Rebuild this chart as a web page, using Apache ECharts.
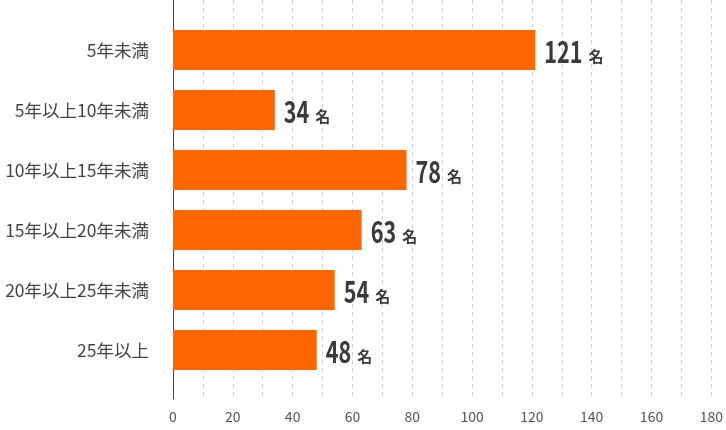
<!DOCTYPE html>
<html><head><meta charset="utf-8">
<script src="https://cdn.jsdelivr.net/npm/echarts@6/dist/echarts.min.js"></script>
<style>html,body{margin:0;padding:0;background:#fff}#c{width:726px;height:430px}</style>
</head><body><div id="c"></div>
<script>
const categories = ['5年未満','5年以上10年未満','10年以上15年未満','15年以上20年未満','20年以上25年未満','25年以上'];
const values = [121, 34, 78, 63, 54, 48];
const unit = '名';
const xMin = 0, xMax = 180, labelStep = 20, gridStep = 10;

const chart = echarts.init(document.getElementById('c'));
const font = '"Noto Sans CJK JP","Noto Sans",sans-serif';
const numFontCss = 'bold 30px "Noto Sans CJK JP", sans-serif';
const unitFontCss = 'bold 15px "Noto Sans CJK JP", sans-serif';
const numScaleX = 0.72;
const measureCtx = document.createElement('canvas').getContext('2d');
function textWidth(t, f) { measureCtx.font = f; return measureCtx.measureText(t).width; }

chart.setOption({
  animation: false,
  backgroundColor: '#fff',
  grid: [
    {left: 173, right: 14, top: 20, height: 360},
    {left: 173, right: 14, top: 0, height: 399}
  ],
  xAxis: [
    {gridIndex: 0, type: 'value', min: xMin, max: xMax, show: false},
    {gridIndex: 1, type: 'value', min: xMin, max: xMax, interval: gridStep,
     axisLine: {show: false}, axisTick: {show: false},
     axisLabel: {color: '#555', fontSize: 14, fontFamily: font, margin: 11,
       formatter: v => (v % labelStep === 0 ? String(v) : '')},
     splitLine: {show: true, lineStyle: {color: '#d0d0d0', type: [4, 4], width: 1}}}
  ],
  yAxis: [
    {gridIndex: 0, type: 'category', data: categories, inverse: true,
     axisLine: {show: false}, axisTick: {show: false},
     axisLabel: {color: '#444', fontSize: 17.5, fontFamily: font, margin: 24}},
    {gridIndex: 1, type: 'value', min: 0, max: 1, axisLabel: {show: false},
     axisTick: {show: false}, splitLine: {show: false},
     axisLine: {show: true, onZero: false, lineStyle: {color: '#444', width: 1}}}
  ],
  series: [{
    type: 'bar', xAxisIndex: 0, yAxisIndex: 0, data: values, barWidth: 40,
    itemStyle: {color: '#ff6600'}
  }, {
    type: 'custom', xAxisIndex: 0, yAxisIndex: 0,
    data: values.map((v, i) => [v, i]),
    renderItem: function (params, api) {
      const v = api.value(0), i = api.value(1);
      const pt = api.coord([v, i]);
      const txt = String(v);
      const x0 = pt[0] + 9;
      const w = textWidth(txt, numFontCss) * numScaleX;
      return {
        type: 'group',
        children: [
          {type: 'text', x: x0, y: pt[1] + 1.5, scaleX: numScaleX,
           style: {text: txt, font: numFontCss, fill: '#3a3a3a', align: 'left', verticalAlign: 'middle'}},
          {type: 'text', x: x0 + w + 6, y: pt[1] + 6.5,
           style: {text: unit, font: unitFontCss, fill: '#3a3a3a', align: 'left', verticalAlign: 'middle'}}
        ]
      };
    }
  }]
});
</script></body></html>
